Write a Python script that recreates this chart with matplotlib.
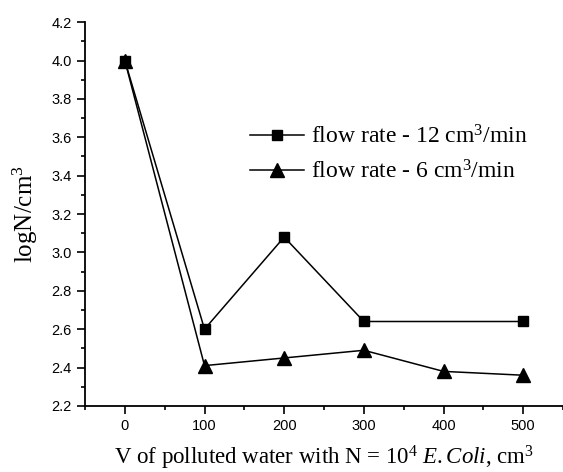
import matplotlib
matplotlib.use("Agg")
import matplotlib.pyplot as plt
from matplotlib.ticker import MultipleLocator, FormatStrFormatter

plt.rcParams["mathtext.fontset"] = "custom"
plt.rcParams["mathtext.rm"] = "Liberation Serif"
plt.rcParams["mathtext.it"] = "Liberation Serif:italic"
plt.rcParams["mathtext.bf"] = "Liberation Serif:bold"

x12 = [0, 100, 200, 300, 500]
y12 = [4.0, 2.60, 3.08, 2.64, 2.64]
x6 = [0, 100, 200, 300, 400, 500]
y6 = [4.0, 2.41, 2.45, 2.49, 2.38, 2.36]
label12 = "flow rate - 12 cm$^3$/min"
label6 = "flow rate - 6 cm$^3$/min"

fig = plt.figure(figsize=(5.63, 4.72), dpi=100)
ax = fig.add_axes([0.151, 0.140, 0.849, 0.813])

ax.plot(x12, y12, color="black", lw=1.1, marker="s", ms=7.5,
        mfc="black", mec="black", label=label12)
ax.plot(x6, y6, color="black", lw=1.1, marker="^", ms=9.5,
        mfc="black", mec="black", label=label6)

ax.set_xlim(-50, 550)
ax.set_ylim(2.2, 4.2)
ax.xaxis.set_major_locator(MultipleLocator(100))
ax.xaxis.set_minor_locator(MultipleLocator(50))
ax.yaxis.set_major_locator(MultipleLocator(0.2))
ax.yaxis.set_minor_locator(MultipleLocator(0.1))
ax.yaxis.set_major_formatter(FormatStrFormatter("%.1f"))
ax.spines["top"].set_visible(False)
ax.spines["right"].set_visible(False)
for s in ["left", "bottom"]:
    ax.spines[s].set_linewidth(1.3)
ax.tick_params(which="major", direction="out", length=6, width=1.2, labelsize=10.5)
ax.tick_params(which="minor", direction="out", length=3, width=1.2)
for lab in ax.get_xticklabels() + ax.get_yticklabels():
    lab.set_family("Liberation Sans")

ax.set_xlabel("V of polluted water with N = 10$^4$ $\\mathit{E.Coli}$, cm$^3$",
              family="Liberation Serif", size=16.5, labelpad=7.5)
ax.set_ylabel("logN/cm$^3$", family="Liberation Serif", size=18, labelpad=8)

ax.legend(loc="center left", bbox_to_anchor=(0.345, 0.655), frameon=False,
          prop={"family": "Liberation Serif", "size": 17}, handlelength=2.3,
          handletextpad=0.3, labelspacing=0.5, borderaxespad=0, borderpad=0)

fig.savefig("out.png", dpi=100)
